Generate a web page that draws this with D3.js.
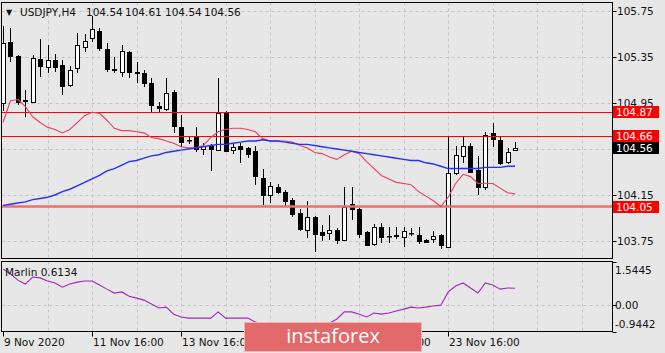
<!DOCTYPE html>
<html>
<head>
<meta charset="utf-8">
<script src="https://cdn.jsdelivr.net/npm/d3@7"></script>
<style>
  body { margin: 0; background: #e7e7e7; }
  svg { display: block; font-family: "DejaVu Sans", sans-serif; }
</style>
</head>
<body>
<div id="chart"></div>
<script>
// data (USDJPY H4, 70 bars from 9 Nov 16:00)
const opens  = [104.95,105.48,105.36,104.97,104.96,105.33,105.26,105.32,105.28,105.11,105.25,105.44,105.51,105.58,105.42,105.25,105.22,105.39,105.22,105.21,105.12,104.92,104.90,105.05,104.74,104.63,104.66,104.55,104.58,104.54,104.87,104.54,104.58,104.56,104.53,104.30,104.15,104.22,104.18,104.11,103.99,103.85,103.96,103.83,103.82,103.85,103.76,104.07,104.03,103.83,103.72,103.87,103.79,103.79,103.79,103.82,103.80,103.76,103.76,103.80,103.70,104.34,104.49,104.58,104.37,104.22,104.69,104.63,104.43,104.54]
const highs  = [105.62,105.60,105.37,105.06,105.37,105.51,105.45,105.38,105.32,105.27,105.56,105.55,105.71,105.60,105.47,105.35,105.45,105.40,105.31,105.24,105.17,104.96,105.17,105.06,104.85,104.66,104.74,104.60,104.59,105.17,104.88,104.60,104.60,104.57,104.58,104.38,104.26,104.25,104.19,104.12,104.03,104.10,103.97,103.89,103.98,103.86,104.22,104.22,104.04,103.84,103.90,103.91,103.87,103.87,103.87,103.86,103.87,103.77,103.84,103.81,104.66,104.58,104.65,104.60,104.49,104.70,104.78,104.66,104.56,104.61]
const lows   = [104.88,105.31,104.93,104.83,104.95,105.18,105.21,105.22,105.02,105.09,105.21,105.39,105.48,105.40,105.22,105.21,105.18,105.17,105.12,105.09,104.87,104.87,104.88,104.69,104.57,104.59,104.52,104.50,104.36,104.53,104.52,104.51,104.43,104.47,104.24,104.06,104.08,104.16,104.05,103.96,103.84,103.78,103.65,103.75,103.76,103.72,103.76,103.93,103.78,103.71,103.71,103.73,103.73,103.77,103.70,103.79,103.72,103.73,103.73,103.68,103.69,104.32,104.43,104.34,104.15,104.19,104.57,104.41,104.42,104.54]
const closes = [105.47,105.36,104.96,104.98,105.34,105.27,105.32,105.26,105.10,105.24,105.45,105.49,105.59,105.43,105.25,105.24,105.40,105.22,105.21,105.12,104.93,104.90,105.04,104.75,104.61,104.63,104.55,104.58,104.55,104.86,104.53,104.57,104.55,104.51,104.31,104.15,104.23,104.18,104.10,103.99,103.85,103.96,103.81,103.80,103.85,103.76,104.05,104.03,103.81,103.72,103.87,103.78,103.79,103.80,103.84,103.82,103.75,103.74,103.79,103.71,104.34,104.50,104.58,104.35,104.22,104.67,104.64,104.43,104.52,104.56]

const redMa  = [104.78,104.97,104.98,104.92,104.83,104.78,104.74,104.72,104.69,104.72,104.78,104.84,104.87,104.86,104.80,104.73,104.71,104.71,104.70,104.69,104.65,104.64,104.62,104.60,104.57,104.56,104.56,104.58,104.65,104.70,104.72,104.73,104.73,104.72,104.70,104.64,104.62,104.62,104.62,104.61,104.58,104.56,104.52,104.51,104.48,104.46,104.50,104.53,104.51,104.44,104.38,104.32,104.29,104.26,104.25,104.24,104.18,104.14,104.10,104.05,104.13,104.25,104.33,104.31,104.25,104.25,104.25,104.21,104.17,104.16]
const blueMa = [104.06,104.07,104.08,104.09,104.11,104.12,104.13,104.15,104.18,104.20,104.23,104.26,104.29,104.32,104.36,104.38,104.41,104.44,104.45,104.47,104.49,104.50,104.52,104.53,104.54,104.55,104.56,104.57,104.58,104.59,104.59,104.60,104.61,104.62,104.62,104.63,104.62,104.62,104.61,104.60,104.59,104.59,104.58,104.57,104.56,104.55,104.54,104.53,104.52,104.51,104.50,104.49,104.48,104.47,104.46,104.45,104.45,104.43,104.42,104.40,104.38,104.38,104.38,104.38,104.38,104.39,104.39,104.39,104.40,104.40]
const marlin = [1.30,1.12,0.90,0.76,1.01,0.98,0.87,0.80,0.65,0.76,0.83,0.87,0.87,0.73,0.58,0.44,0.48,0.33,0.26,0.19,0.05,-0.09,-0.06,-0.31,-0.41,-0.45,-0.45,-0.45,-0.45,-0.23,-0.45,-0.45,-0.45,-0.45,-0.59,-0.65,-0.70,-0.72,-0.78,-0.82,-0.85,-0.80,-0.78,-0.75,-0.63,-0.48,-0.23,-0.23,-0.31,-0.41,-0.27,-0.31,-0.27,-0.20,-0.13,-0.06,-0.09,-0.06,-0.02,0.01,0.48,0.69,0.80,0.62,0.44,0.80,0.73,0.58,0.62,0.6134]

const priceTicks = [105.75, 105.35, 104.95, 104.55, 104.15, 103.75]
const priceLabels = [105.75, 105.35, 104.95, 104.15, 103.75]
const levels = [104.87, 104.66]
const supportLevel = 104.05
const bid = 104.56
const marlinTicks = [1.5445, 0, -0.9442]
const marlinLabels = ["1.5445", "0.00", "-0.9442"]
const dateIdx = [0, 12, 24, 36, 48, 60]
const dateLabels = ["9 Nov 2020", "11 Nov 16:00", "13 Nov 16:00", "17 Nov 16:00", "19 Nov 16:00", "23 Nov 16:00"]
const titleParts = ["USDJPY,H4", "104.54", "104.61", "104.54", "104.56"]

const width = 665
const height = 353
const main = {left: 1.5, right: 612.5, top: 2.5, bottom: 258.5}
const sub = {top: 261.5, bottom: 331.5}

let svg = d3.select('div#chart').append('svg').attr('width', width).attr('height', height)
svg.append('rect').attr('width', width).attr('height', height).attr('fill', '#e7e7e7')

let x = d3.scaleLinear().domain([0, 69]).range([3, 515])
let y = d3.scaleLinear().domain([103.75, 105.75]).range([241, 11])
let ym = d3.scaleLinear().domain([-0.9442, 1.5445]).range([332, 262])
const px = v => Math.round(v) + 0.5

let defs = svg.append('defs')
defs.append('clipPath').attr('id', 'clipMain').append('rect')
    .attr('x', main.left).attr('y', main.top).attr('width', main.right - main.left).attr('height', main.bottom - main.top)
defs.append('clipPath').attr('id', 'clipSub').append('rect')
    .attr('x', main.left).attr('y', sub.top).attr('width', main.right - main.left).attr('height', sub.bottom - sub.top)

// grid
let gridGroup = svg.append('g').attr('id', 'gridGroup').attr('stroke', '#c3c3c3').attr('stroke-dasharray', '3,3')
gridGroup.selectAll('line.h').data(priceTicks).join('line').attr('class', 'h')
    .attr('x1', main.left).attr('x2', main.right).attr('y1', d => px(y(d))).attr('y2', d => px(y(d)))
gridGroup.append('line').attr('x1', main.left).attr('x2', main.right).attr('y1', px(ym(0))).attr('y2', px(ym(0)))
let vIdx = d3.range(6, 80, 6)
gridGroup.selectAll('line.v').data(vIdx).join('line').attr('class', 'v')
    .attr('x1', d => px(x(d))).attr('x2', d => px(x(d))).attr('y1', main.top).attr('y2', main.bottom)
gridGroup.selectAll('line.vs').data(vIdx).join('line').attr('class', 'vs')
    .attr('x1', d => px(x(d))).attr('x2', d => px(x(d))).attr('y1', sub.top).attr('y2', sub.bottom)

// candles
let candleGroup = svg.append('g').attr('id', 'candleGroup').attr('clip-path', 'url(#clipMain)')
let bars = d3.range(opens.length)
candleGroup.selectAll('line').data(bars).join('line')
    .attr('x1', i => px(x(i))).attr('x2', i => px(x(i)))
    .attr('y1', i => Math.round(y(highs[i]))).attr('y2', i => Math.round(y(lows[i])))
    .attr('stroke', '#000')
candleGroup.selectAll('rect').data(bars).join('rect')
    .attr('x', i => Math.round(x(i)) - 2 + 0.5)
    .attr('y', i => Math.round(y(Math.max(opens[i], closes[i]))) + 0.5)
    .attr('width', 4)
    .attr('height', i => Math.max(0.5, Math.round(Math.abs(y(opens[i]) - y(closes[i])))))
    .attr('fill', i => closes[i] >= opens[i] ? '#fff' : '#000')
    .attr('stroke', '#000')

// level lines
let levelGroup = svg.append('g').attr('id', 'levelGroup')
levelGroup.selectAll('line').data(levels).join('line')
    .attr('x1', main.left).attr('x2', main.right).attr('y1', d => px(y(d))).attr('y2', d => px(y(d)))
    .attr('stroke', '#ff0000')
levelGroup.append('line')
    .attr('x1', main.left).attr('x2', main.right).attr('y1', y(supportLevel)).attr('y2', y(supportLevel))
    .attr('stroke', '#f06e6e').attr('stroke-width', 2.5)

// moving averages
let maGroup = svg.append('g').attr('id', 'maGroup').attr('clip-path', 'url(#clipMain)').attr('fill', 'none')
let maLine = d3.line().x((d, i) => x(i)).y(d => y(d))
maGroup.append('path').datum(redMa).attr('d', maLine).attr('stroke', '#e8405e').attr('stroke-width', 1.1)
maGroup.append('path').datum(blueMa).attr('d', maLine).attr('stroke', '#2430ff').attr('stroke-width', 1.4)

// marlin
let subGroup = svg.append('g').attr('id', 'subGroup').attr('clip-path', 'url(#clipSub)')
subGroup.append('path').datum(marlin)
    .attr('d', d3.line().x((d, i) => x(i)).y(d => ym(d)))
    .attr('fill', 'none').attr('stroke', '#a326bf').attr('stroke-width', 1.1)

// frames
let frameGroup = svg.append('g').attr('id', 'frameGroup').attr('fill', 'none').attr('stroke', '#000')
frameGroup.append('rect').attr('x', main.left).attr('y', main.top).attr('width', main.right - main.left).attr('height', main.bottom - main.top)
frameGroup.append('rect').attr('x', main.left).attr('y', sub.top).attr('width', main.right - main.left).attr('height', sub.bottom - sub.top)

// right axis
let axisGroup = svg.append('g').attr('id', 'axisGroup').attr('font-size', '10.5px')
axisGroup.selectAll('line.pt').data(priceLabels).join('line').attr('class', 'pt')
    .attr('x1', main.right).attr('x2', main.right + 4).attr('y1', d => px(y(d))).attr('y2', d => px(y(d))).attr('stroke', '#000')
axisGroup.selectAll('text.pl').data(priceLabels).join('text').attr('class', 'pl')
    .attr('x', 617).attr('y', d => y(d) + 4).attr('fill', '#111').text(d => d.toFixed(2))

let boxes = levels.concat([supportLevel]).map(v => ({v: v, fill: '#ff0000'})).concat([{v: bid, fill: '#000'}])
let boxGroup = axisGroup.selectAll('g.box').data(boxes).join('g').attr('class', 'box')
boxGroup.append('rect').attr('x', 613).attr('y', d => Math.round(y(d.v)) - 6).attr('width', 46).attr('height', 12).attr('fill', d => d.fill)
boxGroup.append('text').attr('x', 616).attr('y', d => Math.round(y(d.v)) + 4).attr('fill', '#fff').text(d => d.v.toFixed(2))

let subLabelY = [270, 305, 324]
axisGroup.selectAll('line.mt').data(marlinTicks).join('line').attr('class', 'mt')
    .attr('x1', main.right).attr('x2', main.right + 4).attr('y1', d => px(ym(d))).attr('y2', d => px(ym(d))).attr('stroke', '#000')
axisGroup.selectAll('text.ml').data(marlinLabels).join('text').attr('class', 'ml')
    .attr('x', 615).attr('y', (d, i) => subLabelY[i] + 4).attr('fill', '#111').text(d => d)

// bottom axis
let xAxisGroup = svg.append('g').attr('id', 'xAxisGroup').attr('font-size', '10.5px')
xAxisGroup.selectAll('line').data(dateIdx).join('line')
    .attr('x1', d => px(x(d))).attr('x2', d => px(x(d))).attr('y1', sub.bottom).attr('y2', sub.bottom + 5).attr('stroke', '#000')
xAxisGroup.selectAll('text').data(dateIdx).join('text')
    .attr('x', d => Math.round(x(d)) + 1).attr('y', 346).attr('fill', '#111')
    .text((d, i) => dateLabels[i])

// titles
let titleGroup = svg.append('g').attr('id', 'titleGroup').attr('font-size', '10.5px').attr('fill', '#111')
titleGroup.append('text').attr('x', 6).attr('y', 15).attr('font-size', '8px').text('▼')
let titleX = [20, 86, 125, 165, 204]
titleGroup.selectAll('text.t').data(titleParts).join('text').attr('class', 't')
    .attr('x', (d, i) => titleX[i]).attr('y', 16).text(d => d)
titleGroup.append('text').attr('x', 5).attr('y', 276).text('Marlin 0.6134')

// watermark
let logo = svg.append('g').attr('id', 'logo')
logo.append('rect').attr('x', 244.5).attr('y', 322.5).attr('width', 177).attr('height', 29)
    .attr('fill', '#e26a6a').attr('stroke', '#f2b3b3')
logo.append('text').attr('x', 333).attr('y', 343).attr('text-anchor', 'middle')
    .attr('font-family', '"Open Sans", sans-serif').attr('font-size', '20px').attr('fill', '#fff').text('instaforex')
</script>
</body>
</html>
